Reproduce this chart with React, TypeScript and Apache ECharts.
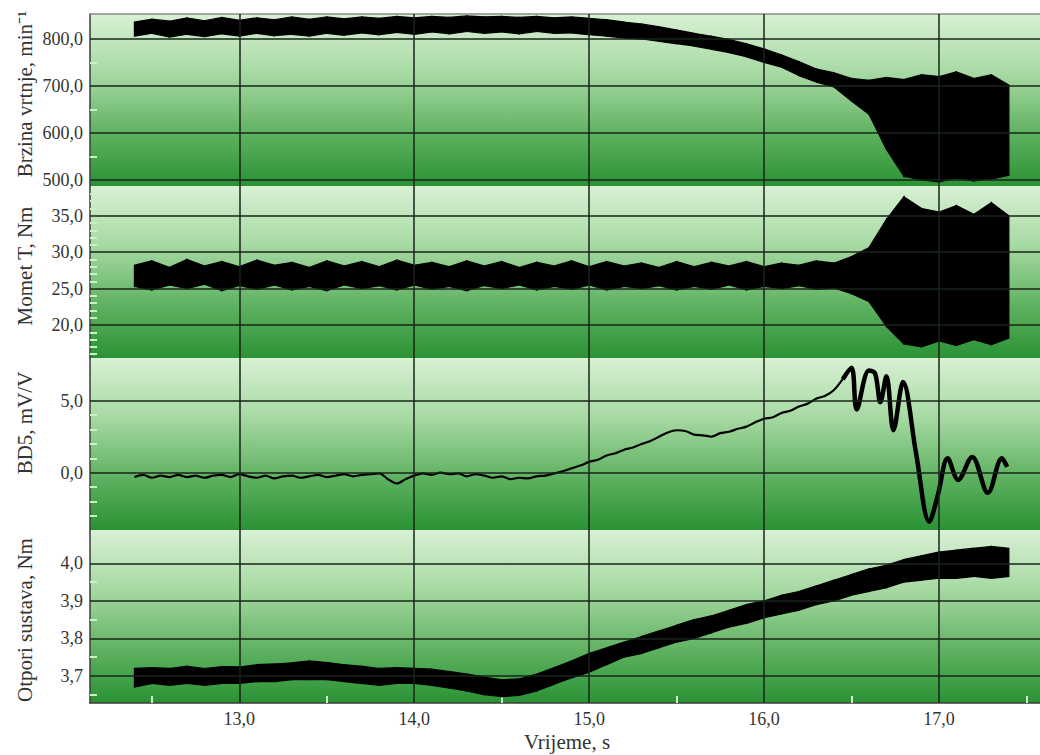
import React, { useEffect, useRef } from 'react';
import * as echarts from 'echarts';

// ---------- data ----------
const T = [12.4, 12.5, 12.6, 12.7, 12.8, 12.9, 13.0, 13.1, 13.2, 13.3, 13.4, 13.5, 13.6, 13.7, 13.8, 13.9, 14.0, 14.1, 14.2, 14.3, 14.4, 14.5, 14.6, 14.7, 14.8, 14.9, 15.0, 15.1, 15.2, 15.3, 15.4, 15.5, 15.6, 15.7, 15.8, 15.9, 16.0, 16.1, 16.2, 16.3, 16.4, 16.5, 16.6, 16.7, 16.8, 16.9, 17.0, 17.1, 17.2, 17.3, 17.4];

const SPEED_LO = [806, 812, 804, 810, 805, 811, 806, 812, 807, 810, 806, 812, 808, 813, 809, 814, 810, 815, 811, 816, 812, 815, 811, 816, 812, 813, 809, 806, 802, 800, 795, 790, 785, 778, 771, 762, 750, 740, 722, 708, 698, 668, 640, 565, 508, 500, 496, 504, 498, 502, 510];
const SPEED_HI = [836, 842, 838, 845, 839, 846, 840, 845, 841, 847, 842, 847, 843, 847, 844, 848, 845, 848, 846, 849, 847, 848, 846, 848, 845, 847, 844, 841, 836, 832, 826, 819, 812, 806, 799, 790, 779, 766, 752, 736, 728, 716, 712, 718, 714, 724, 720, 730, 716, 724, 702];

const TORQUE_LO = [25.3, 24.8, 25.5, 25.0, 25.6, 24.7, 25.4, 24.9, 25.5, 24.8, 25.3, 24.7, 25.5, 25.0, 25.4, 24.8, 25.5, 24.9, 25.3, 24.7, 25.4, 25.0, 25.5, 24.8, 25.3, 24.9, 25.5, 24.8, 25.3, 25.0, 25.4, 24.8, 25.3, 24.9, 25.5, 24.8, 25.3, 25.0, 25.4, 24.9, 25.1, 24.3, 23.2, 19.8, 17.4, 17.0, 17.8, 17.2, 18.0, 17.3, 18.2];
const TORQUE_HI = [28.2, 28.8, 27.9, 29.0, 28.1, 28.7, 28.0, 28.9, 28.2, 28.6, 27.9, 28.8, 28.1, 28.7, 28.0, 28.9, 28.2, 28.6, 28.0, 28.8, 28.1, 28.7, 27.9, 28.6, 28.1, 28.8, 28.0, 28.7, 28.1, 28.5, 27.9, 28.7, 28.0, 28.6, 28.1, 28.7, 28.0, 28.5, 28.2, 28.8, 28.5, 29.4, 30.6, 34.5, 37.6, 36.0, 35.5, 36.4, 35.2, 36.8, 35.0];

const RES_LO = [3.670, 3.680, 3.675, 3.680, 3.675, 3.680, 3.680, 3.685, 3.685, 3.690, 3.690, 3.690, 3.685, 3.680, 3.675, 3.680, 3.680, 3.675, 3.668, 3.660, 3.650, 3.645, 3.648, 3.660, 3.678, 3.695, 3.710, 3.730, 3.750, 3.760, 3.775, 3.790, 3.800, 3.815, 3.830, 3.840, 3.855, 3.865, 3.875, 3.890, 3.900, 3.915, 3.925, 3.935, 3.950, 3.955, 3.960, 3.960, 3.965, 3.960, 3.965];
const RES_HI = [3.720, 3.722, 3.720, 3.726, 3.720, 3.725, 3.724, 3.730, 3.732, 3.735, 3.740, 3.736, 3.730, 3.726, 3.720, 3.722, 3.720, 3.718, 3.712, 3.705, 3.697, 3.690, 3.692, 3.705, 3.722, 3.740, 3.760, 3.775, 3.790, 3.805, 3.820, 3.835, 3.850, 3.860, 3.875, 3.890, 3.900, 3.915, 3.925, 3.940, 3.955, 3.970, 3.985, 3.995, 4.010, 4.020, 4.030, 4.035, 4.040, 4.045, 4.040];

const BD_T = [12.40, 12.45, 12.50, 12.55, 12.60, 12.65, 12.70, 12.75, 12.80, 12.85, 12.90, 12.95, 13.00, 13.05, 13.10, 13.15, 13.20, 13.25, 13.30, 13.35, 13.40, 13.45, 13.50, 13.55, 13.60, 13.65, 13.70, 13.75, 13.80, 13.85, 13.90, 13.95, 14.00, 14.05, 14.10, 14.15, 14.20, 14.25, 14.30, 14.35, 14.40, 14.45, 14.50, 14.55, 14.60, 14.65, 14.70, 14.75, 14.80, 14.85, 14.90, 14.95, 15.00, 15.05, 15.10, 15.15, 15.20, 15.25, 15.30, 15.35, 15.40, 15.45, 15.50, 15.55, 15.60, 15.65, 15.70, 15.75, 15.80, 15.85, 15.90, 15.95, 16.00, 16.05, 16.10, 16.15, 16.20, 16.25, 16.30, 16.35, 16.40, 16.45, 16.50, 16.53, 16.60, 16.635, 16.665, 16.70, 16.74, 16.795, 16.87, 16.945, 16.995, 17.05, 17.11, 17.19, 17.28, 17.36, 17.39];
const BD_V = [-0.30, -0.15, -0.35, -0.20, -0.30, -0.15, -0.30, -0.20, -0.35, -0.20, -0.15, -0.30, -0.10, -0.25, -0.35, -0.20, -0.40, -0.25, -0.20, -0.35, -0.25, -0.15, -0.30, -0.20, -0.10, -0.25, -0.15, -0.10, -0.05, -0.45, -0.75, -0.45, -0.20, -0.05, -0.15, 0.00, -0.10, -0.05, -0.25, -0.10, -0.20, -0.35, -0.25, -0.45, -0.35, -0.40, -0.25, -0.20, -0.05, 0.10, 0.30, 0.50, 0.75, 0.90, 1.20, 1.35, 1.60, 1.75, 2.00, 2.20, 2.50, 2.80, 2.95, 2.90, 2.65, 2.60, 2.50, 2.75, 2.85, 3.05, 3.20, 3.50, 3.75, 3.85, 4.15, 4.30, 4.60, 4.80, 5.15, 5.35, 5.75, 6.50, 7.30, 4.40, 7.10, 6.90, 4.90, 6.70, 2.95, 6.30, 1.30, -3.40, -1.50, 1.00, -0.50, 1.10, -1.40, 1.00, 0.40];
const BD_SPLIT_T = 16.45;

const X_LABELS = [13, 14, 15, 16, 17];
const X_MINOR = [12.5, 13.5, 14.5, 15.5, 16.5, 17.5];
const X_RANGE = [12.146, 17.578];

const SPEED_TICKS = [500, 600, 700, 800];
const SPEED_MINOR = [550, 650, 750];
const TORQUE_TICKS = [20, 25, 30, 35];
const TORQUE_MINOR = [16, 17, 18, 19, 21, 22, 23, 24, 26, 27, 28, 29, 31, 32, 33, 34, 36, 37, 38];
const BD_TICKS = [0, 5];
const BD_MINOR = [-3, -2, -1, 1, 2, 3, 4];
const RES_TICKS = [3.7, 3.8, 3.9, 4.0];
const RES_MINOR = [3.65, 3.75, 3.85, 3.95];

const Y_RANGES = [[487.2, 853.2], [15.47, 39.08], [-3.98, 7.97], [3.628, 4.0886]];
const Y_TICKS = [SPEED_TICKS, TORQUE_TICKS, BD_TICKS, RES_TICKS];
const Y_MINOR = [SPEED_MINOR, TORQUE_MINOR, BD_MINOR, RES_MINOR];
const Y_NAMES = ['Brzina vrtnje, min\u207B\u00B9', 'Momet T, Nm', 'BD5, mV/V', 'Otpori sustava, Nm'];
const X_NAME = 'Vrijeme, s';

// ---------- layout ----------
const GRIDS = [
  { top: 14, height: 172 },
  { top: 186, height: 172 },
  { top: 358, height: 172 },
  { top: 530, height: 173 },
];
const NAME_Y = [94, 266, 423, 620];
const FONT = 'Liberation Serif';
const fmt = (v: number) => v.toFixed(1).replace('.', ',');

export default function App() {
  const ref = useRef<HTMLDivElement>(null);

  useEffect(() => {
    if (!ref.current) return;
    const chart = echarts.init(ref.current, undefined, { renderer: 'svg' });

    const bg = () =>
      new echarts.graphic.LinearGradient(0, 0, 0, 1, [
        { offset: 0, color: '#d9f0d5' },
        { offset: 0.35, color: '#a6d9a2' },
        { offset: 0.7, color: '#5eb160' },
        { offset: 1, color: '#2a9234' },
      ]);

    const grid = GRIDS.map((g) => ({
      left: 90,
      right: 0,
      top: g.top,
      height: g.height,
      show: true,
      borderWidth: 0,
      backgroundColor: bg(),
      containLabel: false,
    }));

    const xAxis = GRIDS.map((_, i) => ({
      type: 'value',
      gridIndex: i,
      min: X_RANGE[0],
      max: X_RANGE[1],
      position: i === 0 ? 'top' : 'bottom',
      axisLine: {
        show: i === 0 || i === 3,
        onZero: false,
        lineStyle: { color: i === 0 ? '#8a8a8a' : '#3c3c3c', width: 1.5 },
      },
      axisTick:
        i === 3
          ? { show: true, customValues: X_MINOR, inside: true, length: 7, lineStyle: { color: '#c9f3c2', width: 2 } }
          : { show: false },
      axisLabel:
        i === 3
          ? { show: true, customValues: X_LABELS, formatter: (v: number) => fmt(v), fontFamily: FONT, fontSize: 18, color: '#333', margin: 7 }
          : { show: false },
      splitLine: { show: false },
    }));

    const yAxis = GRIDS.map((_, i) => ({
      type: 'value',
      gridIndex: i,
      min: Y_RANGES[i][0],
      max: Y_RANGES[i][1],
      axisLine: { show: true, onZero: false, lineStyle: { color: '#3c3c3c', width: 1.5 } },
      axisTick: { show: true, customValues: Y_MINOR[i], inside: true, length: 7, lineStyle: { color: '#c9f3c2', width: 2 } },
      axisLabel: { show: true, customValues: Y_TICKS[i], formatter: (v: number) => fmt(v), fontFamily: FONT, fontSize: 18, color: '#333', margin: 7 },
      splitLine: { show: false },
    }));

    const gridLines = (i: number) => ({
      silent: true,
      symbol: ['none', 'none'],
      label: { show: false },
      lineStyle: { color: '#18251a', width: 1.5, type: 'solid' },
      data: [...Y_TICKS[i].map((v) => ({ yAxis: v })), ...X_LABELS.map((v) => ({ xAxis: v }))],
    });

    // band between low and high envelope, drawn as quads through the axes' scales
    const band = (i: number, lo: number[], hi: number[]) => {
      const data: number[][] = [];
      for (let k = 0; k < T.length - 1; k++) {
        data.push([T[k], lo[k], hi[k], T[k + 1], lo[k + 1], hi[k + 1]]);
      }
      return {
        type: 'custom',
        xAxisIndex: i,
        yAxisIndex: i,
        data,
        encode: { x: [0, 3], y: [1, 2, 4, 5] },
        renderItem: (_p: any, api: any) => {
          const a = api.coord([api.value(0), api.value(1)]);
          const b = api.coord([api.value(3), api.value(4)]);
          const c = api.coord([api.value(3), api.value(5)]);
          const d = api.coord([api.value(0), api.value(2)]);
          return {
            type: 'polygon',
            shape: { points: [a, b, c, d] },
            style: { fill: '#000', stroke: '#000', lineWidth: 1.2 },
          };
        },
        markLine: gridLines(i),
        z: 3,
      };
    };

    const bdEarly: number[][] = [];
    const bdLate: number[][] = [];
    BD_T.forEach((t, k) => {
      if (t <= BD_SPLIT_T) bdEarly.push([t, BD_V[k]]);
      if (t >= BD_SPLIT_T) bdLate.push([t, BD_V[k]]);
    });

    const series: any[] = [
      band(0, SPEED_LO, SPEED_HI),
      band(1, TORQUE_LO, TORQUE_HI),
      {
        type: 'line',
        xAxisIndex: 2,
        yAxisIndex: 2,
        symbol: 'none',
        smooth: 0.3,
        data: bdEarly,
        lineStyle: { color: '#000', width: 2.2 },
        markLine: gridLines(2),
        z: 3,
      },
      {
        type: 'line',
        xAxisIndex: 2,
        yAxisIndex: 2,
        symbol: 'none',
        smooth: 0.35,
        data: bdLate,
        lineStyle: { color: '#000', width: 4.5 },
        z: 3,
      },
      band(3, RES_LO, RES_HI),
    ];

    const graphic: any[] = [
      ...Y_NAMES.map((name, i) => ({
        type: 'text',
        x: 25,
        y: NAME_Y[i],
        rotation: Math.PI / 2,
        style: {
          text: name,
          fontFamily: FONT,
          fontSize: 21,
          fill: '#333',
          align: 'center',
          verticalAlign: 'middle',
          textAlign: 'center',
          textVerticalAlign: 'middle',
        },
        z: 10,
      })),
      {
        type: 'text',
        x: 567,
        y: 742,
        style: {
          text: X_NAME,
          fontFamily: FONT,
          fontSize: 21,
          fill: '#333',
          align: 'center',
          verticalAlign: 'middle',
          textAlign: 'center',
          textVerticalAlign: 'middle',
        },
        z: 10,
      },
    ];

    chart.setOption({
      animation: false,
      backgroundColor: '#ffffff',
      textStyle: { fontFamily: FONT },
      grid,
      xAxis,
      yAxis,
      series,
      graphic,
    } as any);

    return () => chart.dispose();
  }, []);

  return (
    <div
      ref={ref}
      style={{ position: 'fixed', left: 0, top: 0, width: 1040, height: 755, background: '#fff' }}
    />
  );
}
